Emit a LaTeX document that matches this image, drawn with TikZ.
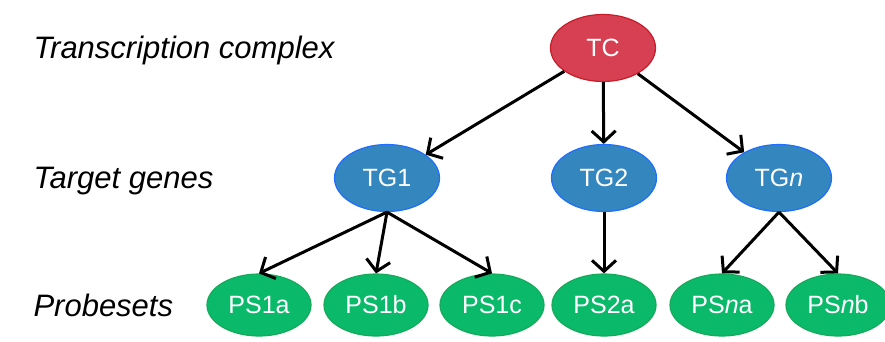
\documentclass[tikz,border=0pt]{standalone}
\usepackage{fontspec}
\setmainfont{Liberation Sans}
\usepackage{tikz}
\usetikzlibrary{arrows.meta,positioning,shapes.geometric}
\definecolor{tcfill}{RGB}{214,64,82}
\definecolor{tcline}{RGB}{200,28,40}
\definecolor{tgfill}{RGB}{52,134,190}
\definecolor{tgline}{RGB}{30,110,255}
\definecolor{psfill}{RGB}{10,186,106}
\definecolor{psline}{RGB}{20,170,90}
\tikzset{
    gene node/.style={ellipse,inner sep=0pt,minimum width=105pt,minimum height=67pt,
        text=white,font=\fontsize{25}{30}\selectfont,line width=1.2pt},
    tc node/.style={gene node,fill=tcfill,draw=tcline},
    tg node/.style={gene node,fill=tgfill,draw=tgline},
    ps node/.style={gene node,minimum width=104pt,minimum height=62pt,fill=psfill,draw=psline},
    level label/.style={anchor=base west,font=\fontsize{31}{36}\selectfont\itshape},
    arr/.style={-{Straight Barb[length=11pt,width=24pt,line width=3pt]},line width=3pt},
}

\begin{document}
\begin{tikzpicture}[x=1pt,y=1pt]
        \useasboundingbox (0,0) rectangle (885,341);

        \node[tc node] (TC) at (603,293) {TC};

        \node[tg node] (TG1) at (387,163) {TG1};
        \node[tg node] (TG2) at (604,163) {TG2};
        \node[tg node] (TGn) at (779,163) {TG\textit{n}};

        \node[ps node] (PS1a) at (259,36) {PS1a};
        \node[ps node] (PS1b) at (376,36) {PS1b};
        \node[ps node] (PS1c) at (492,36) {PS1c};
        \node[ps node] (PS2a) at (604,36) {PS2a};
        \node[ps node] (PSna) at (722,36) {PS\textit{n}a};
        \node[ps node] (PSnb) at (838,36) {PS\textit{n}b};

        \draw[arr] (TC) -- (TG1);
        \draw[arr] (TC) -- (TG2);
        \draw[arr] (TC) -- (TGn);

        \draw[arr] (TG1.south) -- (PS1a.north);
        \draw[arr] (TG1.south) -- (PS1b.north);
        \draw[arr] (TG1.south) -- (PS1c.north);
        \draw[arr] (TG2) -- (PS2a);
        \draw[arr] (TGn.south) -- (PSna.north);
        \draw[arr] (TGn.south) -- (PSnb.north);

        % levels
        \node[level label] (LTC) at (30,283) {Transcription complex};
        \node[level label] (LTG) at (30,153) {Target genes};
        \node[level label] (LPS) at (30,25) {Probesets};
    \end{tikzpicture}
\end{document}
